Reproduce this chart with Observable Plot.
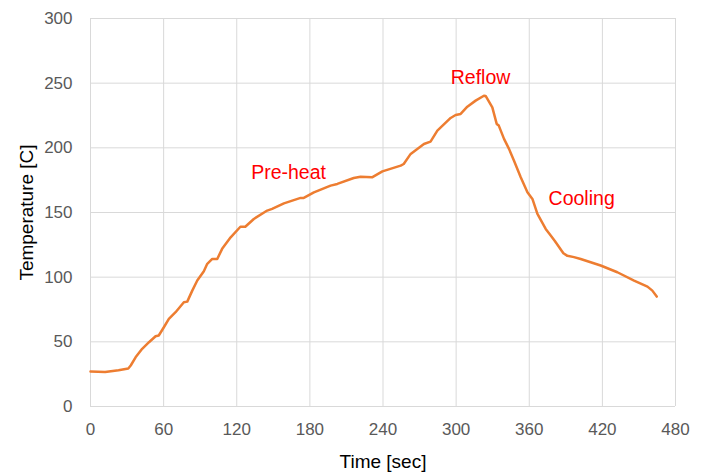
<!DOCTYPE html>
<html>
<head>
<meta charset="utf-8">
<script src="https://cdn.jsdelivr.net/npm/d3@7"></script>
<script src="https://cdn.jsdelivr.net/npm/@observablehq/plot@0.6"></script>
<style>
  html, body { margin: 0; padding: 0; background: #fff; }
  #chart svg { display: block; }
</style>
</head>
<body>
<div id="chart"></div>
<script>
// Time [sec] and temperature [C]
const times = [0, 12, 23, 31, 33, 37, 42.4, 48, 53.4, 56, 60.2, 64.3, 69.8, 76.6, 79.4, 83.5, 87.6, 93, 95.8, 99.9, 104, 108, 115, 123, 127, 134, 145, 149, 158.7, 172.4, 175, 183.3, 197, 202.5, 216, 221.6, 231, 239.5, 254.5, 257, 262.7, 273.6, 279, 284.6, 295.5, 299.6, 303.7, 309.2, 316, 322.8, 324.2, 329.7, 333.3, 335, 339.3, 343.4, 347.5, 353, 358.5, 362.6, 366.7, 373.5, 376.2, 381, 388, 391.3, 396.7, 402.2, 410.4, 418.6, 432.3, 446, 457, 461, 464.6];
const temps = [27, 26.6, 28, 29.4, 31.7, 38, 44.6, 49.7, 54.3, 54.9, 61.3, 67.8, 72.9, 80.6, 81.1, 89.6, 97.4, 104.6, 110.3, 114.1, 114.1, 121.9, 130.8, 139, 139, 145, 151.5, 152.8, 157.1, 161.3, 161.3, 165.6, 170.8, 172.1, 176.7, 177.7, 177.2, 181.8, 186.2, 187.5, 195.3, 203, 204.8, 213.3, 223.1, 225.4, 226.2, 231.8, 236.5, 240.3, 240.1, 231.3, 218.5, 217.2, 206.9, 199.2, 190.1, 177.2, 165.6, 160.5, 148.9, 137.3, 134, 128, 118.5, 116.5, 115.5, 114, 111.5, 109, 103.8, 97.4, 92.7, 89.6, 85];

const xTicks = [0, 60, 120, 180, 240, 300, 360, 420, 480];
const yTicks = [0, 50, 100, 150, 200, 250, 300];

const phaseLabels = ["Pre-heat", "Reflow", "Cooling"];
const phaseTimes = [162.5, 320, 403];
const phaseTemps = [181, 254, 161];

const profile = times.map((t, i) => ({t, v: temps[i]}));
const phases = phaseLabels.map((name, i) => ({name, t: phaseTimes[i], v: phaseTemps[i]}));

const chart = Plot.plot({
  width: 705,
  height: 472,
  marginLeft: 90,
  marginRight: 30,
  marginTop: 18,
  marginBottom: 66,
  style: {fontFamily: "'Liberation Sans', Arial, sans-serif", fontSize: "19px", background: "#fff", color: "#000"},
  x: {domain: [0, 480]},
  y: {domain: [0, 300]},
  marks: [
    Plot.gridX(xTicks, {stroke: "#d9d9d9", strokeOpacity: 1, strokeWidth: 1}),
    Plot.gridY(yTicks, {stroke: "#d9d9d9", strokeOpacity: 1, strokeWidth: 1}),
    Plot.axisX({ticks: xTicks, tickSize: 0, tickPadding: 16, fill: "#595959", fontSize: 17, label: null}),
    Plot.axisX({ticks: [], tickSize: 0, label: "Time [sec]", labelAnchor: "center", labelArrow: "none", labelOffset: 61, fontSize: 19}),
    Plot.axisY({ticks: yTicks, tickSize: 0, tickPadding: 18, fill: "#595959", fontSize: 17, label: null}),
    Plot.axisY({ticks: [], tickSize: 0, label: "Temperature [C]", labelAnchor: "center", labelArrow: "none", labelOffset: 71, fontSize: 19}),
    Plot.line(profile, {x: "t", y: "v", stroke: "#ED7D31", strokeWidth: 2.5, curve: "linear"}),
    Plot.text(phases, {x: "t", y: "v", text: "name", fill: "#FF0000", fontSize: 19.5})
  ]
});
document.getElementById("chart").appendChild(chart);
</script>
</body>
</html>
